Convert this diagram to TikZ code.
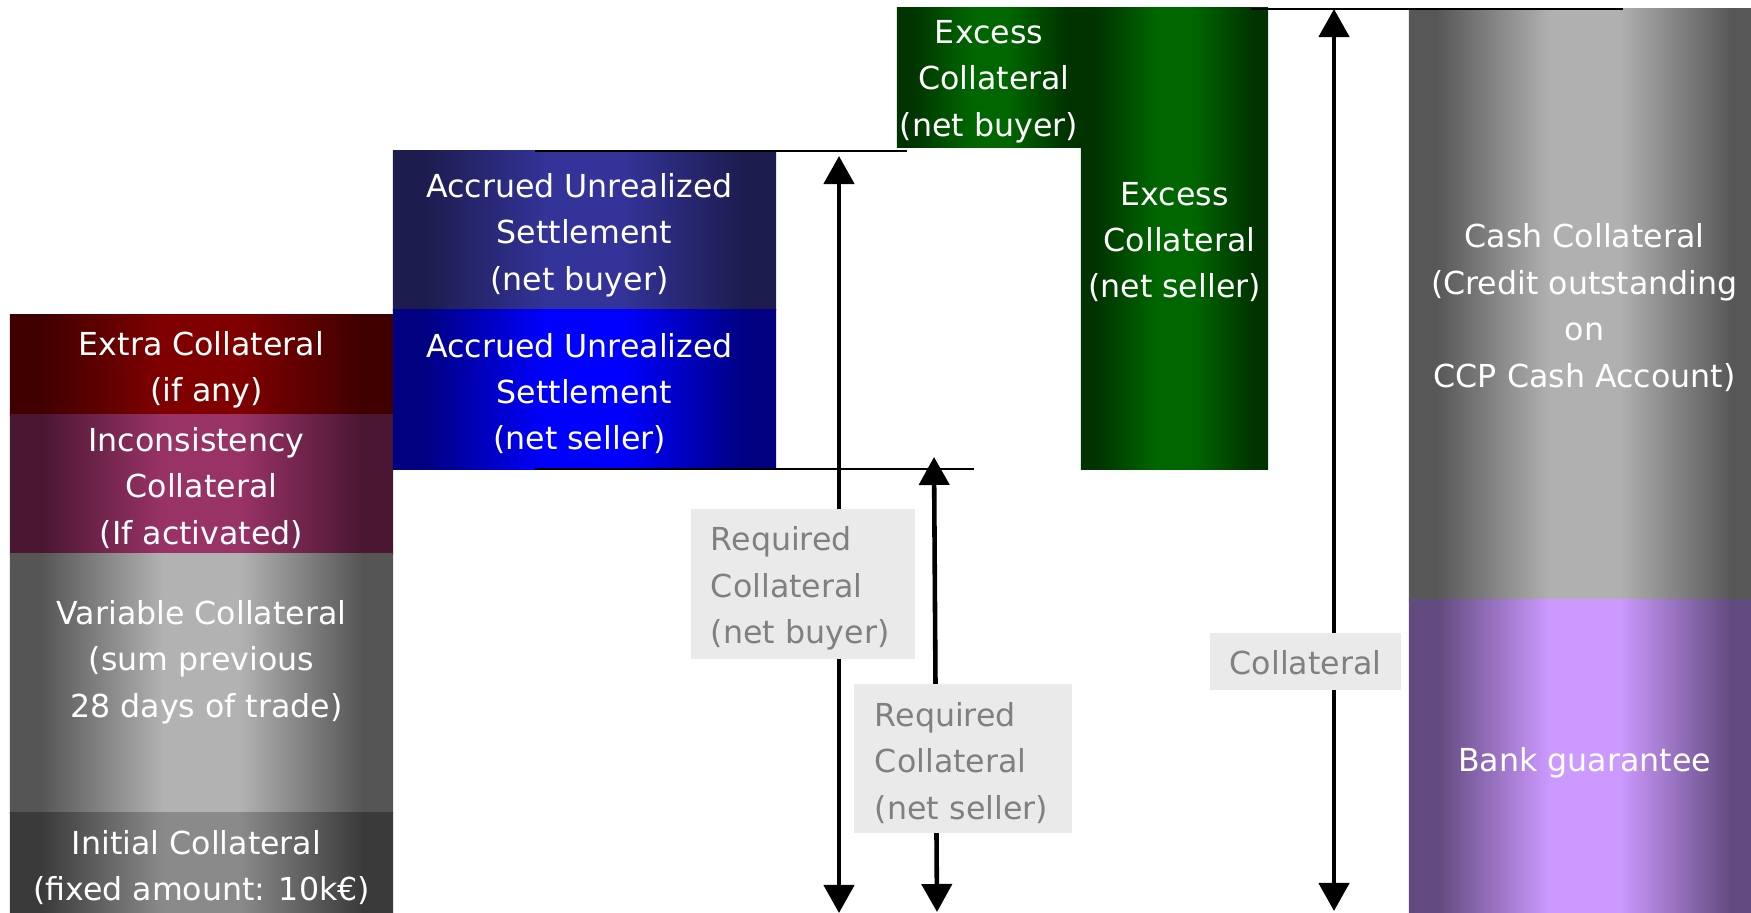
\documentclass[tikz,border=0pt]{standalone}
\usepackage{fontspec}
\setmainfont{DejaVu Sans}
\usetikzlibrary{arrows.meta}

% bar colours: edge tone and centre tone of each horizontal gradient
\definecolor{extraedge}{HTML}{400000}
\definecolor{extramid}{HTML}{800000}
\definecolor{incedge}{HTML}{4A1632}
\definecolor{incmid}{HTML}{993366}
\definecolor{varedge}{HTML}{555555}
\definecolor{varmid}{HTML}{B2B2B2}
\definecolor{iniedge}{HTML}{3A3A3A}
\definecolor{inimid}{HTML}{8A8A8A}
\definecolor{ausbedge}{HTML}{1C1C4E}
\definecolor{ausbmid}{HTML}{333399}
\definecolor{aussedge}{HTML}{000080}
\definecolor{aussmid}{HTML}{0000FF}
\definecolor{excedge}{HTML}{003300}
\definecolor{excmid}{HTML}{006600}
\definecolor{cashedge}{HTML}{575757}
\definecolor{cashmid}{HTML}{B0B0B0}
\definecolor{bankedge}{HTML}{614A7E}
\definecolor{bankmid}{HTML}{CC99FF}
\definecolor{lblfill}{HTML}{EAEAEA}
\definecolor{lbltext}{HTML}{808080}

% working colours of the bar gradient
\colorlet{baredge}{black}
\colorlet{barmid}{white}
% dark rim, ramp, light centre band (visible range is 25bp..75bp)
\pgfdeclarehorizontalshading[baredge,barmid]{barshade}{100bp}{%
  color(0bp)=(baredge); color(29bp)=(baredge); color(45bp)=(barmid);
  color(55bp)=(barmid); color(71bp)=(baredge); color(100bp)=(baredge)}

\newcommand\pad{\hspace*{0.1cm}}

\begin{document}
\begin{tikzpicture}[x=0.01cm,y=-0.01cm,
  every node/.style={font=\fontsize{9}{13.2}\selectfont},
  bar/.style 2 args={inner sep=0pt,
    /utils/exec={\colorlet{baredge}{#1}\colorlet{barmid}{#2}},
    shading=barshade},
  bartext/.style={inner sep=0pt, text=white, align=center},
  lbl/.style={fill=lblfill, inner sep=0pt},
  lbltxt/.style={inner sep=0pt, text=lbltext},
  hline/.style={line width=0.6pt},
  dblarrow/.style={line width=1.3pt,
    arrows={Triangle[width=3mm,length=2.8mm]-Triangle[width=3mm,length=2.8mm]}}]

\useasboundingbox (0,0) rectangle (1751,913);
\clip (0,0) rectangle (1751,913);

% left stack
\node[bar={extraedge}{extramid}, minimum width=3.83cm, minimum height=1.00cm]
  (extra) at (201.5,365) {};
\node[bartext] (extratext) at (201.5,369.5) {Extra Collateral\\\pad(if any)};
\node[bar={incedge}{incmid}, minimum width=3.83cm, minimum height=1.39cm]
  (incons) at (201.5,484.5) {};
\node[bartext] (inconstext) at (201.5,488) {Inconsistency\pad\\Collateral\pad\\(If activated)};
\node[bar={varedge}{varmid}, minimum width=3.83cm, minimum height=2.59cm]
  (variable) at (201.5,683.5) {};
\node[bartext] (variabletext) at (201.5,662) {Variable Collateral\\(sum previous\\\pad28 days of trade)};
\node[bar={iniedge}{inimid}, minimum width=3.83cm, minimum height=1.00cm]
  (initial) at (201.5,863) {};
\node[bartext] (initialtext) at (201.5,867.5) {Initial Collateral\pad\\(fixed amount: 10k€)};

% accrued unrealized settlement
\node[bar={ausbedge}{ausbmid}, minimum width=3.83cm, minimum height=1.59cm]
  (ausbuyer) at (584.5,230.5) {};
\node[bartext] (ausbuyertext) at (584.5,235) {Accrued Unrealized\pad\\Settlement\\(net buyer)\pad};
\node[bar={aussedge}{aussmid}, minimum width=3.83cm, minimum height=1.59cm]
  (ausseller) at (584.5,389.5) {};
\node[bartext] (aussellertext) at (584.5,393.5) {Accrued Unrealized\pad\\Settlement\\(net seller)\pad};

% excess collateral
\node[bar={excedge}{excmid}, minimum width=1.84cm, minimum height=1.39cm]
  (excbuyer) at (989,77.5) {};
\node[bartext] (excbuyertext) at (989,81.5) {Excess\\\pad Collateral\\(net buyer)};
\node[bar={excedge}{excmid}, minimum width=1.87cm, minimum height=4.61cm]
  (excseller) at (1174.5,238.5) {};
\node[bartext] (excsellertext) at (1174.5,242) {Excess\\\pad Collateral\\(net seller)};

% collateral forms
\node[bar={cashedge}{cashmid}, minimum width=3.51cm, minimum height=5.91cm]
  (cash) at (1584.5,304.5) {};
\node[bartext] (cashtext) at (1584.5,307.5) {Cash Collateral\\(Credit outstanding\\on\\CCP Cash Account)};
\node[bar={bankedge}{bankmid}, minimum width=3.51cm, minimum height=3.13cm]
  (bank) at (1584.5,756.5) {};
\node[bartext] (banktext) at (1584.5,763) {Bank guarantee};

% reference levels
\coordinate (topa) at (535,151);   \coordinate (topb) at (907,151);
\coordinate (mida) at (535,469);   \coordinate (midb) at (974,469);
\coordinate (hia)  at (1251,8.7);  \coordinate (hib)  at (1623,8.7);
\draw[hline] (topa) -- (topb);
\draw[hline] (mida) -- (midb);
\draw[hline] (hia) -- (hib);

% extents
\coordinate (rbt) at (839,156);   \coordinate (rbb) at (839,913);
\coordinate (rst) at (934,457);   \coordinate (rsb) at (937,912);
\coordinate (ct)  at (1334,9);    \coordinate (cb)  at (1334,911);
\draw[dblarrow] (rbt) -- (rbb);
\draw[dblarrow] (rst) -- (rsb);
\draw[dblarrow] (ct) -- (cb);

% labels
\node[lbl, minimum width=2.24cm, minimum height=1.50cm] (reqbuyer) at (803,584) {};
\node[lbltxt, text width=1.84cm, align=left] (reqbuyertext) at (803,588.5)
  {Required\\Collateral\\(net buyer)};
\node[lbl, minimum width=2.18cm, minimum height=1.49cm] (reqseller) at (963,758.5) {};
\node[lbltxt, text width=1.76cm, align=left] (reqsellertext) at (963,763)
  {Required\\Collateral\\(net seller)};
\node[lbl, minimum width=1.91cm, minimum height=0.57cm] (coll) at (1305.5,661.5) {};
\node[lbltxt] (colltext) at (1305.5,662.5) {Collateral};

\end{tikzpicture}
\end{document}
